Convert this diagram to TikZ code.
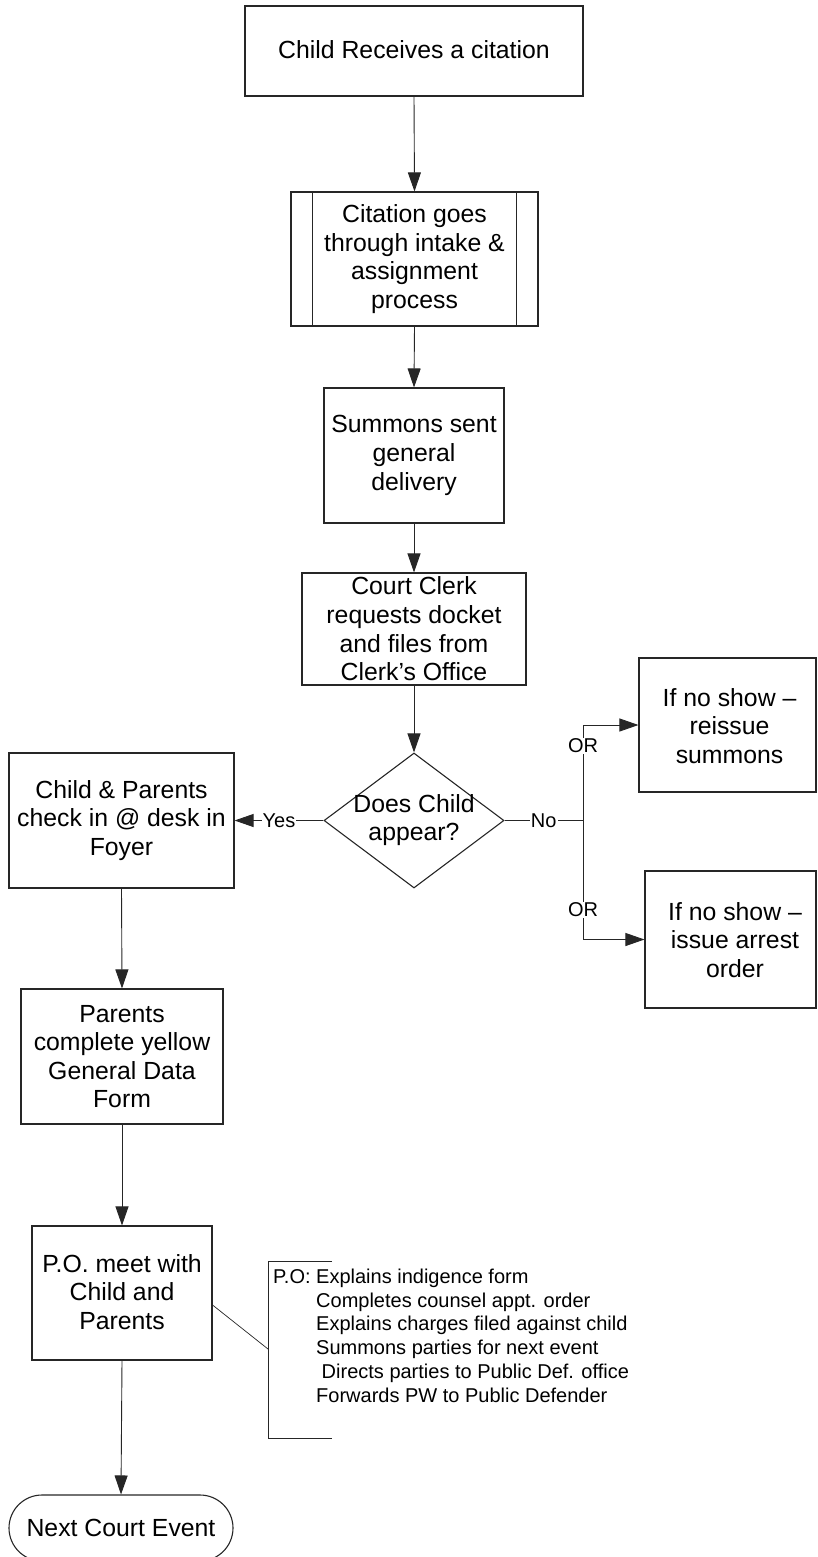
\documentclass[tikz,border=0pt]{standalone}
\usepackage{fontspec}
\setmainfont{Liberation Sans}
\usetikzlibrary{arrows.meta,positioning,shapes.geometric}
\begin{document}
\begin{tikzpicture}[x=1pt,y=-1pt,
  box/.style={draw=black!85,line width=1.1pt,rectangle,inner sep=0pt},
  txt/.style={font=\fontsize{24.8}{28.6}\selectfont,align=center,inner sep=0pt},
  lbl/.style={font=\fontsize{20}{23.8}\selectfont,fill=white,inner sep=1pt},
  conn/.style={draw=black!85,line width=0.9pt},
  arr/.style={conn,-{Triangle[length=19pt,width=13pt]}}]
\useasboundingbox (0,0) rectangle (817,1557);
\clip (0,0) rectangle (817,1557);
% boxes
\node[box,minimum width=338pt,minimum height=90pt] (b1) at (414,51) {};
\node[txt] (t1) at (414,50) {Child Receives a citation};
\node[box,minimum width=247pt,minimum height=134pt] (b2) at (414.5,259) {};
\draw[draw=black!85,line width=1.1pt] ([xshift=22pt]b2.north west) -- ([xshift=22pt]b2.south west);
\draw[draw=black!85,line width=1.1pt] ([xshift=-22pt]b2.north east) -- ([xshift=-22pt]b2.south east);
\node[txt] (t2) at (414.5,259) {Citation goes\\through intake \&\\assignment\\process};
\node[box,minimum width=180pt,minimum height=135pt] (b3) at (414,455.5) {};
\node[txt] (t3) at (414,455.5) {Summons sent\\general\\delivery};
\node[box,minimum width=224pt,minimum height=112pt] (b4) at (414,629) {};
\node[txt] (t4) at (414,629) {Court Clerk\\requests docket\\and files from\\Clerk’s Office};
\node[draw=black!85,line width=1.1pt,shape=diamond,aspect=1.333,minimum width=180pt,minimum height=135pt,inner sep=0pt] (dia) at (414,820.5) {};
\node[txt] (td) at (414,820) {Does Child\\appear?};
\node[box,minimum width=225pt,minimum height=135pt] (b5) at (121.5,820.5) {};
\node[txt] (t5) at (121.5,820.5) {Child \& Parents\\check in @ desk in\\Foyer};
\node[box,minimum width=202pt,minimum height=135pt] (b6) at (122,1056.5) {};
\node[txt] (t6) at (122,1056.5) {Parents\\complete yellow\\General Data\\Form};
\node[box,minimum width=180pt,minimum height=134pt] (b7) at (122,1293) {};
\node[txt] (t7) at (122,1292) {P.O. meet with\\Child and\\Parents};
\node[box,minimum width=177pt,minimum height=134pt] (r1) at (727.5,725) {};
\node[txt] (tr1) at (729.5,726) {If no show –\\reissue\\summons};
\node[box,minimum width=171pt,minimum height=137pt] (r2) at (730.5,939.5) {};
\node[txt] (tr2) at (735,940) {If no show –\\issue arrest\\order};
\node[draw=black!85,line width=1.1pt,rectangle,rounded corners=33pt,minimum width=224pt,minimum height=66pt,inner sep=0pt] (term) at (121,1528) {};
\node[txt] (tt) at (121,1528) {Next Court Event};
% connectors
\draw[arr] (b1.south) -- (b2.north);
\draw[arr] (b2.south) -- (b3.north);
\draw[arr] (b3.south) -- (b4.north);
\draw[arr] (b4.south) -- (dia.north);
\draw[arr] (dia.west) -- node[lbl] (yes) {Yes} (b5.east);
\coordinate (split) at (583,820.5);
\draw[conn] (dia.east) -- node[lbl] (no) {No} (split);
\draw[arr] (split) |- node[lbl,pos=0.39] (or1) {OR} (r1.west);
\draw[arr] (split) |- node[lbl,pos=0.375] (or2) {OR} (r2.west);
\draw[arr] (b5.south) -- (b6.north);
\draw[arr] (b6.south) -- (b7.north);
\draw[arr] (b7.south) -- (term.north);
% annotation
\coordinate (ba) at (332,1261);
\coordinate (bb) at (268,1261);
\coordinate (bc) at (268,1438);
\coordinate (bd) at (332,1438);
\coordinate (brk) at (268,1349);
\draw[conn] (ba) -- (bb) -- (bc) -- (bd);
\draw[conn,line width=0.7pt] ([yshift=-12pt]b7.east) -- (brk);
\node[font=\fontsize{20}{23.8}\selectfont,align=left,inner sep=0pt,anchor=north west] (note) at (273,1268.5)
 {P.O: Explains indigence form\\
  \phantom{P.O: }Completes counsel appt. order\\
  \phantom{P.O: }Explains charges filed against child\\
  \phantom{P.O: }Summons parties for next event\\
  \phantom{P.O: } Directs parties to Public Def. office\\
  \phantom{P.O: }Forwards PW to Public Defender};
\end{tikzpicture}
\end{document}
